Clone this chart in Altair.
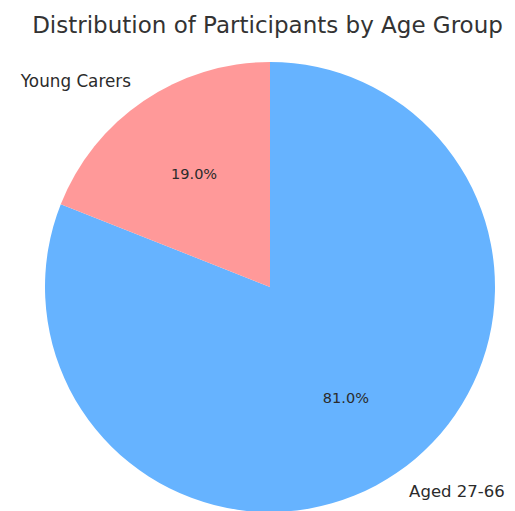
import altair as alt
import pandas as pd

groups = ["Aged 27-66", "Young Carers"]
shares = [81.0, 19.0]
pct_labels = ["81.0%", "19.0%"]
left_labels = ["", "Young Carers"]
right_labels = ["Aged 27-66", ""]
order = [0, 1]
colors = ["#66b3ff", "#ff9999"]

df = pd.DataFrame({
    "group": groups,
    "share": shares,
    "pct": pct_labels,
    "left": left_labels,
    "right": right_labels,
    "order": order,
})

CX, CY, R = 262, 229, 225
FONT = "DejaVu Sans"

base = alt.Chart(df).encode(
    theta=alt.Theta("share:Q", stack=True),
    order=alt.Order("order:Q"),
    x=alt.value(CX),
    y=alt.value(CY),
)

arcs = base.mark_arc(outerRadius=R, strokeWidth=0).encode(
    color=alt.Color("group:N", scale=alt.Scale(domain=groups, range=colors), legend=None)
)

pcts = base.mark_text(radius=R * 0.6, font=FONT, fontSize=14.5, color="#2b2b2b",
                      align="center", baseline="middle").encode(text="pct:N")

lab_left = base.mark_text(radius=R * 1.1, font=FONT, fontSize=16.8, color="#2b2b2b",
                          align="right", baseline="middle").encode(text="left:N")
lab_right = base.mark_text(radius=R * 1.1, font=FONT, fontSize=16.5, color="#2b2b2b",
                           align="left", baseline="middle").encode(text="right:N")

chart = alt.layer(arcs, pcts, lab_left, lab_right).properties(
    width=499,
    height=455,
    padding={"top": 50, "left": 0, "right": 0, "bottom": 0},
    autosize=alt.AutoSizeParams(type="none"),
    title=alt.TitleParams(
        "Distribution of Participants by Age Group",
        font=FONT, fontSize=23, fontWeight="normal", color="#333333",
        anchor="middle", dx=10, offset=20,
    ),
).configure_view(stroke=None)

chart.save("out.html", embed_options={"renderer": "svg", "actions": False})
